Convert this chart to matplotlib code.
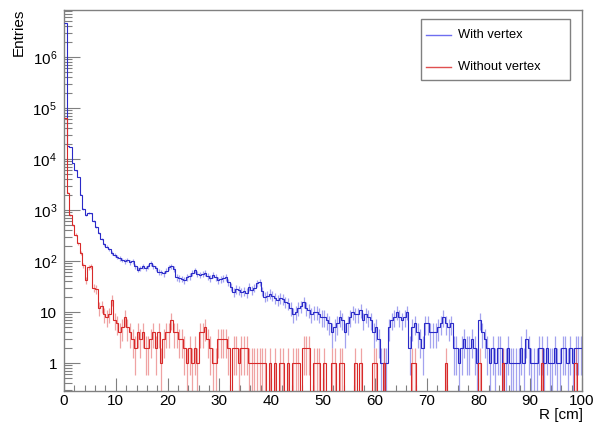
import numpy as np
import matplotlib
matplotlib.use("Agg")
import matplotlib.pyplot as plt
from matplotlib.ticker import LogLocator, MultipleLocator, FuncFormatter, NullFormatter
from matplotlib.lines import Line2D
from matplotlib.patches import Rectangle

plt.rcParams['font.family'] = ['Liberation Sans', 'DejaVu Sans']
plt.rcParams['mathtext.fontset'] = 'custom'
plt.rcParams['mathtext.rm'] = 'Liberation Sans'
plt.rcParams['mathtext.it'] = 'Liberation Sans'

# histogram binning: 0.5 cm bins from 0 to 100 cm
r_edges = np.linspace(0, 100, 201)

# entries per bin, with reconstructed vertex
with_vertex = [
    4600000, 18000, 17000, 8300, 6000, 4400, 2000, 1050, 800, 880,
    860, 600, 460, 350, 270, 215, 190, 170, 145, 130,
    120, 112, 105, 98, 105, 95, 98, 78, 68, 72,
    78, 72, 80, 90, 80, 72, 62, 60, 57, 65,
    75, 78, 70, 48, 46, 45, 42, 48, 50, 58,
    66, 55, 53, 55, 58, 50, 46, 53, 48, 42,
    44, 46, 48, 38, 31, 25, 28, 27, 25, 26,
    24, 31, 27, 30, 37, 39, 26, 20, 21, 23,
    21, 19, 17, 19, 18, 16, 15, 12, 9, 10,
    12, 13, 16, 12, 11, 9, 10, 10, 9, 8,
    8, 7, 6, 4, 5, 6, 8, 7, 4, 6,
    8, 10, 9, 9, 11, 7, 9, 8, 7, 4,
    5, 3, 1, 1, 1, 5, 7, 8, 10, 8,
    7, 8, 10, 2, 5, 6, 4, 3, 2, 6,
    6, 4, 4, 4, 5, 6, 8, 6, 5, 6,
    2, 2, 1, 2, 3, 2, 2, 3, 2, 1,
    7, 4, 3, 2, 1, 2, 1, 2, 2, 1,
    1, 2, 1, 1, 1, 1, 2, 1, 3, 2,
    1, 1, 1, 2, 2, 1, 2, 1, 1, 2,
    1, 1, 2, 2, 1, 2, 1, 2, 2, 2,
]

# entries per bin, no vertex found
without_vertex = [
    63000, 2200, 800, 500, 330, 225, 145, 83, 42, 75,
    80, 30, 28, 12, 13, 9, 8, 9, 17, 7,
    6, 4, 5, 8, 5, 4, 3, 2, 4, 3,
    4, 2, 2, 3, 4, 2, 4, 1, 3, 4,
    4, 7, 4, 4, 3, 3, 2, 1, 2, 1,
    2, 1, 4, 4, 5, 3, 2, 1, 1, 3,
    3, 3, 3, 2, 0, 2, 2, 1, 2, 2,
    2, 1, 1, 1, 1, 1, 1, 1, 0, 1,
    0, 1, 0, 1, 1, 0, 1, 0, 1, 1,
    1, 0, 2, 2, 2, 0, 1, 1, 1, 0,
    1, 0, 0, 1, 1, 0, 1, 1, 0, 0,
    0, 0, 1, 0, 1, 0, 0, 0, 0, 1,
    1, 0, 0, 1, 0, 0, 0, 0, 0, 0,
    0, 0, 0, 0, 1, 1, 0, 0, 0, 0,
    0, 0, 0, 0, 0, 0, 0, 1, 0, 0,
    0, 0, 0, 0, 0, 0, 0, 0, 0, 0,
    1, 0, 0, 0, 0, 0, 0, 0, 0, 1,
    0, 0, 0, 0, 0, 0, 0, 0, 0, 0,
    0, 0, 0, 0, 1, 0, 0, 0, 0, 0,
    0, 0, 0, 0, 0, 0, 0, 1, 0, 0,
]

labels = ["With vertex", "Without vertex"]
ymin, ymax = 0.283, 8.5e6

fig = plt.figure(figsize=(5.99, 4.24), dpi=100)
ax = fig.add_axes([64/599, 1-391/424, 518/599, 381.5/424])

centers = 0.5*(r_edges[:-1] + r_edges[1:])


def draw_hist(counts, line_col, err_col):
    n = np.asarray(counts, dtype=float)
    # empty bins sit on the bottom of the frame
    shown = np.where(n > 0, n, ymin*0.5)
    ax.stairs(shown, r_edges, baseline=None, color=line_col, lw=0.8, zorder=3)
    nz = n > 0
    err = np.sqrt(n[nz])
    lo = np.clip(n[nz] - err, ymin*0.5, None)
    hi = n[nz] + err
    ax.vlines(centers[nz], lo, hi, color=err_col, lw=0.9, alpha=0.5, zorder=2)


draw_hist(with_vertex, '#2a2ac8', '#4848e0')
draw_hist(without_vertex, '#d82a2a', '#e04848')

ax.set_yscale('log')
ax.set_xlim(0, 100)
ax.set_ylim(ymin, ymax)

ax.yaxis.set_major_locator(LogLocator(base=10, numticks=20))
ax.yaxis.set_minor_locator(LogLocator(base=10, subs=np.arange(2, 10), numticks=20))


def ylab(v, pos):
    e = int(round(np.log10(v)))
    if e == 0:
        return "1"
    if e == 1:
        return "10"
    return r"$10^{%d}$" % e


ax.yaxis.set_major_formatter(FuncFormatter(ylab))
ax.yaxis.set_minor_formatter(NullFormatter())
ax.xaxis.set_major_locator(MultipleLocator(10))
ax.xaxis.set_minor_locator(MultipleLocator(2))

axis_grey = '#808080'
for s in ax.spines.values():
    s.set_color(axis_grey)
    s.set_linewidth(1.0)

ax.tick_params(axis='both', which='both', direction='in', colors=axis_grey,
               labelcolor='black', labelsize=11, top=False, right=False)
ax.tick_params(axis='y', which='major', length=11.5, width=0.8, pad=5)
ax.tick_params(axis='y', which='minor', length=5.8, width=0.8)
ax.tick_params(axis='x', which='major', length=9.4, width=0.8, pad=2)
ax.tick_params(axis='x', which='minor', length=4.3, width=0.8)

fig.text(0.032, 0.980, "Entries", rotation=90, ha='center', va='top', fontsize=11)
fig.text(583/599, 2/424, "R [cm]", ha='right', va='bottom', fontsize=11)

# legend box
fig.patches.append(Rectangle((421/599, 1-80/424), 149/599, 61/424,
                             transform=fig.transFigure, fill=True, facecolor='white',
                             edgecolor=axis_grey, lw=1.0, zorder=5))
leg_colors = ['#6e6ef0', '#e05050']
leg_y = [1-35/424, 1-67/424]
for lab, col, yy in zip(labels, leg_colors, leg_y):
    fig.lines.append(Line2D([426/599, 451/599], [yy, yy], transform=fig.transFigure,
                            color=col, lw=1.0, zorder=6))
    fig.text(458/599, yy, lab, ha='left', va='center', fontsize=9.3, zorder=6)

fig.savefig("out.png", dpi=100)
